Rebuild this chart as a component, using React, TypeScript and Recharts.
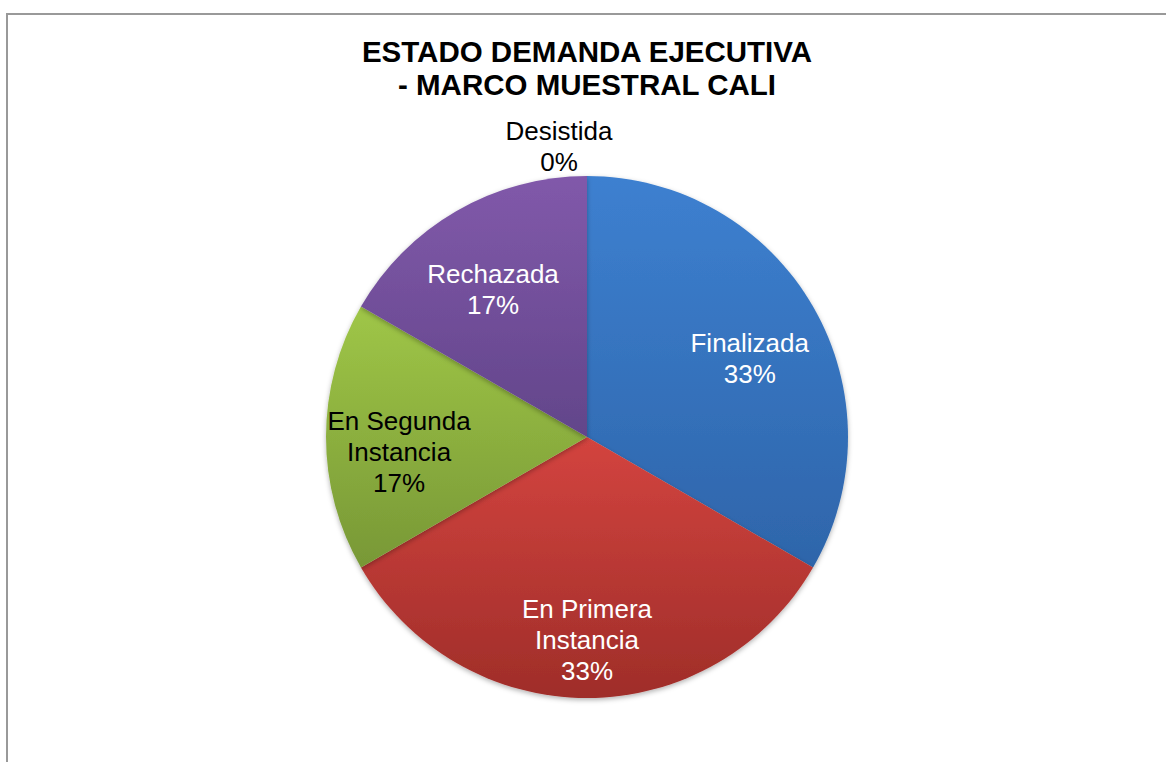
import { PieChart, Pie, Cell } from 'recharts';

const categories = ['Finalizada', 'En Primera Instancia', 'En Segunda Instancia', 'Rechazada', 'Desistida'];
const counts = [2, 2, 1, 1, 0];
const titleLines = ['ESTADO DEMANDA EJECUTIVA', '- MARCO MUESTRAL CALI'];

// top / bottom gradient stops per slice
const GRADIENTS = [
  ['#3d80d0', '#2e65aa'],
  ['#d3443f', '#9f2d29'],
  ['#9fc647', '#789836'],
  ['#8159aa', '#62458a'],
  ['#d9d9d9', '#a6a6a6'],
];
const LABEL_COLORS = ['#ffffff', '#ffffff', '#000000', '#ffffff', '#000000'];

const data = categories.map((name, i) => ({ name, value: counts[i] }));

const FONT = '"Liberation Sans", Arial, sans-serif';
const LINE = 31;

function wrap(name: string) {
  const words = name.split(' ');
  if (words.length > 2) return [words.slice(0, 2).join(' '), words.slice(2).join(' ')];
  return [name];
}

const RAD = Math.PI / 180;

function renderLabel(props: any) {
  const { cx, cy, midAngle, outerRadius, index, name, percent, value } = props;
  const lines = [...wrap(name), `${Math.round((percent ?? 0) * 100)}%`];
  let x: number;
  let y: number;
  if (value === 0) {
    x = cx - 28;
    y = cy - outerRadius - 30;
  } else {
    const r = outerRadius * 0.72;
    x = cx + r * Math.cos(-midAngle * RAD);
    y = cy + r * Math.sin(-midAngle * RAD) + 15;
  }
  const first = y - ((lines.length - 1) * LINE) / 2 + 9;
  return (
    <text
      key={`lbl-${index}`}
      x={x}
      y={first}
      textAnchor="middle"
      fill={LABEL_COLORS[index]}
      fontFamily={FONT}
      fontSize={26}
    >
      {lines.map((l, i) => (
        <tspan key={i} x={x} y={first + i * LINE}>
          {l}
        </tspan>
      ))}
    </text>
  );
}

export default function App() {
  return (
    <div style={{ position: 'absolute', left: 0, top: 0, width: 1166, height: 762, overflow: 'hidden', background: '#fff' }}>
      <div
        style={{
          position: 'absolute',
          left: 6,
          top: 13,
          width: 1300,
          height: 900,
          borderLeft: '2px solid #999',
          borderTop: '2px solid #999',
        }}
      />
      <div
        style={{
          position: 'absolute',
          left: 287,
          top: 35,
          width: 600,
          textAlign: 'center',
          fontFamily: FONT,
          fontWeight: 'bold',
          fontSize: 29.5,
          lineHeight: `${LINE + 2}px`,
          color: '#000',
        }}
      >
        {titleLines.map((t) => (
          <div key={t}>{t}</div>
        ))}
      </div>
      <div style={{ position: 'absolute', left: 0, top: 0 }}>
        <PieChart width={1166} height={762} margin={{ top: 0, right: 0, bottom: 0, left: 0 }}>
          <defs>
            {GRADIENTS.map(([a, b], i) => (
              <linearGradient key={i} id={`g${i}`} x1="0" y1="0" x2="0" y2="1">
                <stop offset="0%" stopColor={a} />
                <stop offset="100%" stopColor={b} />
              </linearGradient>
            ))}
            <filter id="shadow" x="-20%" y="-20%" width="140%" height="140%">
              <feDropShadow dx="0" dy="2" stdDeviation="2.5" floodColor="#000" floodOpacity="0.3" />
            </filter>
          </defs>
          <Pie
            data={data}
            dataKey="value"
            nameKey="name"
            cx={587}
            cy={437}
            outerRadius={261}
            startAngle={90}
            endAngle={-270}
            stroke="none"
            labelLine={false}
            label={renderLabel}
            isAnimationActive={false}
          >
            {data.map((_, i) => (
              <Cell key={`c-${i}`} fill={`url(#g${i})`} filter="url(#shadow)" />
            ))}
          </Pie>
        </PieChart>
      </div>
    </div>
  );
}
